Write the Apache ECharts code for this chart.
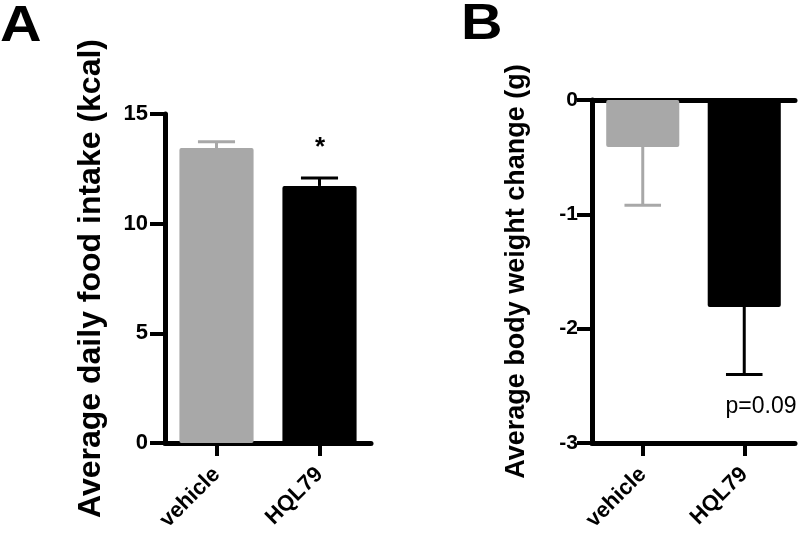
<!DOCTYPE html>
<html>
<head>
<meta charset="utf-8">
<script src="https://cdn.jsdelivr.net/npm/echarts@6/dist/echarts.min.js"></script>
<style>
html,body{margin:0;padding:0;background:#fff;}
#chart{width:800px;height:534px;}
</style>
</head>
<body>
<div id="chart"></div>
<script>
const categories = ['vehicle', 'HQL79'];
const intakeMean = [13.45, 11.72];
const intakeSem = [0.28, 0.36];
const weightMean = [-0.41, -1.81];
const weightSem = [0.51, 0.59];
const intakeAxis = { min: 0, max: 15, interval: 5 };
const weightAxis = { min: -3, max: 0, interval: 1 };
const intakeName = 'Average daily food intake (kcal)';
const weightName = 'Average body weight change (g)';

const barColors = ['#a8a8a8', '#000000'];
const FONT = '"Liberation Sans", Arial, Helvetica, sans-serif';

const chart = echarts.init(document.getElementById('chart'), null, { renderer: 'canvas' });

function errData(mean, sem) {
  return mean.map((m, i) => [i, m, m + (m >= 0 ? sem[i] : -sem[i])]);
}

function errRender(params, api) {
  const i = api.value(0);
  const p0 = api.coord([i, api.value(1)]);
  const p1 = api.coord([i, api.value(2)]);
  const half = api.size([1, 0])[0] * 0.18;
  const col = barColors[i];
  return {
    type: 'group',
    children: [
      { type: 'line', shape: { x1: p0[0], y1: p0[1], x2: p1[0], y2: p1[1] }, style: { stroke: col, lineWidth: 3 } },
      { type: 'line', shape: { x1: p1[0] - half, y1: p1[1], x2: p1[0] + half, y2: p1[1] }, style: { stroke: col, lineWidth: 3 } }
    ]
  };
}

function yAx(ax, name, gridIndex, fontSize, nameSize, nameGap, margin) {
  return {
    type: 'value', gridIndex: gridIndex, min: ax.min, max: ax.max, interval: ax.interval,
    name: name, nameLocation: 'middle', nameGap: nameGap, nameRotate: 90,
    nameTextStyle: { fontFamily: FONT, fontWeight: 'bold', fontSize: nameSize, color: '#000' },
    axisLine: { show: true, onZero: false, lineStyle: { color: '#000', width: 5 } },
    axisTick: { show: true, length: 15, lineStyle: { color: '#000', width: 4 } },
    axisLabel: { margin: margin, fontFamily: FONT, fontWeight: 'bold', fontSize: fontSize, color: '#000' },
    splitLine: { show: false }
  };
}

function xAx(gridIndex, fontSize) {
  return {
    type: 'category', gridIndex: gridIndex, data: categories, position: 'bottom',
    axisLine: { show: true, onZero: false, lineStyle: { color: '#000', width: 5 } },
    axisTick: { show: true, length: 13, alignWithLabel: true, lineStyle: { color: '#000', width: 4 } },
    axisLabel: { rotate: 45, margin: 28, fontFamily: FONT, fontWeight: 'bold', fontSize: fontSize, color: '#000' },
    splitLine: { show: false }
  };
}

const option = {
  backgroundColor: '#fff',
  animation: false,
  grid: [
    { left: 165, top: 114, width: 206, height: 329 },
    { left: 592, top: 100, width: 203, height: 343 }
  ],
  xAxis: [
    xAx(0, 22),
    xAx(1, 22),
    {
      type: 'category', gridIndex: 1, data: categories, position: 'top',
      axisLine: { show: true, onZero: false, lineStyle: { color: '#000', width: 5 } },
      axisTick: { show: false }, axisLabel: { show: false }, splitLine: { show: false }
    }
  ],
  yAxis: [
    yAx(intakeAxis, intakeName, 0, 22, 32, 58, 17),
    yAx(weightAxis, weightName, 1, 21, 27, 62, 14)
  ],
  series: [
    {
      type: 'bar', xAxisIndex: 0, yAxisIndex: 0, barCategoryGap: '28%',
      data: intakeMean.map((v, i) => ({ value: v, itemStyle: { color: barColors[i], borderRadius: 2 } }))
    },
    {
      type: 'custom', xAxisIndex: 0, yAxisIndex: 0, renderItem: errRender,
      data: errData(intakeMean, intakeSem), z: 3
    },
    {
      type: 'bar', xAxisIndex: 1, yAxisIndex: 1, barCategoryGap: '28%',
      data: weightMean.map((v, i) => ({ value: v, itemStyle: { color: barColors[i], borderRadius: 2 } }))
    },
    {
      type: 'custom', xAxisIndex: 1, yAxisIndex: 1, renderItem: errRender,
      data: errData(weightMean, weightSem), z: 3
    }
  ],
  graphic: [
    { type: 'text', left: 0, top: 2, scaleX: 1.15, style: { text: 'A', fontFamily: FONT, fontWeight: 'bold', fontSize: 50, fill: '#000' } },
    { type: 'text', left: 461, top: 0, scaleX: 1.15, style: { text: 'B', fontFamily: FONT, fontWeight: 'bold', fontSize: 50, fill: '#000' } },
    { type: 'text', x: 320, y: 148, style: { text: '*', fontFamily: FONT, fontWeight: 'bold', fontSize: 26, fill: '#000', align: 'center', verticalAlign: 'middle' } },
    { type: 'text', x: 761, y: 407, style: { text: 'p=0.09', fontFamily: FONT, fontSize: 23, fill: '#000', align: 'center', verticalAlign: 'middle' } }
  ]
};
chart.setOption(option);
</script>
</body>
</html>
